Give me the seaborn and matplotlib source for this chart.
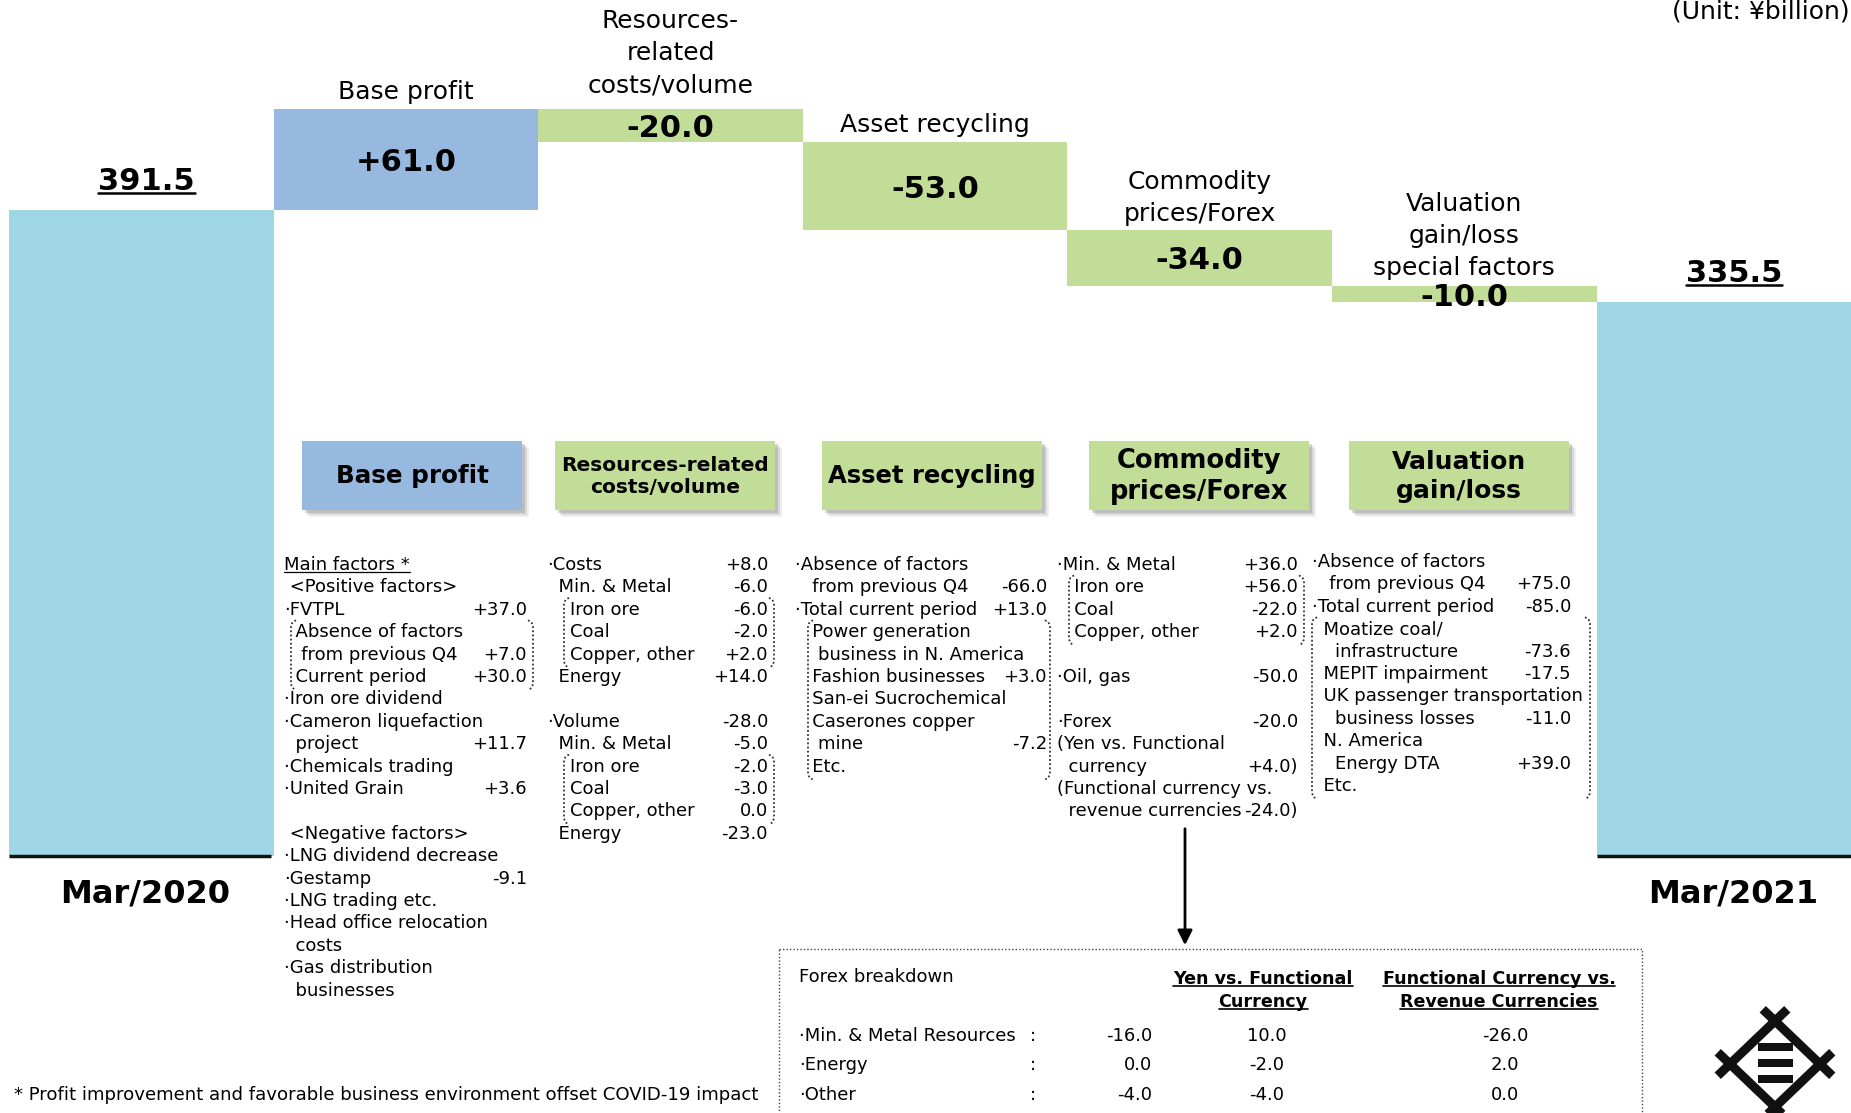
import numpy as np
import pandas as pd
import seaborn as sns
import matplotlib.pyplot as plt
from matplotlib.patches import Rectangle
from matplotlib.lines import Line2D
from matplotlib.transforms import IdentityTransform

# ---------------- data ----------------
steps = ["Mar/2020", "Base profit", "Resources-\nrelated\ncosts/volume", "Asset recycling",
         "Commodity\nprices/Forex", "Valuation\ngain/loss\nspecial factors", "Mar/2021"]
amounts = [391.5, 61.0, -20.0, -53.0, -34.0, -10.0, 335.5]
is_total = [True, False, False, False, False, False, True]
value_labels = ["391.5", "+61.0", "-20.0", "-53.0", "-34.0", "-10.0", "335.5"]

box_titles = ["Base profit", "Resources-related\ncosts/volume", "Asset recycling",
              "Commodity\nprices/Forex", "Valuation\ngain/loss"]

base_profit_lines = [
    ("Main factors *", ""), (" <Positive factors>", ""), ("·FVTPL", "+37.0"),
    ("  Absence of factors", ""), ("   from previous Q4", "+7.0"), ("  Current period", "+30.0"),
    ("·Iron ore dividend", ""), ("·Cameron liquefaction", ""), ("  project", "+11.7"),
    ("·Chemicals trading", ""), ("·United Grain", "+3.6"), ("", ""),
    (" <Negative factors>", ""), ("·LNG dividend decrease", ""), ("·Gestamp", "-9.1"),
    ("·LNG trading etc.", ""), ("·Head office relocation", ""), ("  costs", ""),
    ("·Gas distribution", ""), ("  businesses", ""),
]
resources_lines = [
    ("·Costs", "+8.0"), ("  Min. & Metal", "-6.0"), ("    Iron ore", "-6.0"), ("    Coal", "-2.0"),
    ("    Copper, other", "+2.0"), ("  Energy", "+14.0"), ("", ""),
    ("·Volume", "-28.0"), ("  Min. & Metal", "-5.0"), ("    Iron ore", "-2.0"), ("    Coal", "-3.0"),
    ("    Copper, other", "0.0"), ("  Energy", "-23.0"),
]
asset_lines = [
    ("·Absence of factors", ""), ("   from previous Q4", "-66.0"), ("·Total current period", "+13.0"),
    ("   Power generation", ""), ("    business in N. America", ""), ("   Fashion businesses", "+3.0"),
    ("   San-ei Sucrochemical", ""), ("   Caserones copper", ""), ("    mine", "-7.2"), ("   Etc.", ""),
]
commodity_lines = [
    ("·Min. & Metal", "+36.0"), ("   Iron ore", "+56.0"), ("   Coal", "-22.0"), ("   Copper, other", "+2.0"),
    ("", ""), ("·Oil, gas", "-50.0"), ("", ""), ("·Forex", "-20.0"),
    ("(Yen vs. Functional", ""), ("  currency", "+4.0)"),
    ("(Functional currency vs.", ""), ("  revenue currencies", "-24.0)"),
]
valuation_lines = [
    ("·Absence of factors", ""), ("   from previous Q4", "+75.0"), ("·Total current period", "-85.0"),
    ("  Moatize coal/", ""), ("    infrastructure", "-73.6"), ("  MEPIT impairment", "-17.5"),
    ("  UK passenger transportation", ""), ("    business losses", "-11.0"),
    ("  N. America", ""), ("    Energy DTA", "+39.0"), ("  Etc.", ""),
]

forex_segments = ["·Min. & Metal Resources", "·Energy", "·Other"]
forex_total = [-16.0, 0.0, -4.0]
forex_yen_vs_func = [10.0, -2.0, -4.0]
forex_func_vs_rev = [-26.0, 2.0, 0.0]

footnote = "* Profit improvement and favorable business environment offset COVID-19 impact"

# ---------------- waterfall geometry ----------------
bottoms, heights = [], []
level = 0.0
for a, tot in zip(amounts, is_total):
    if tot:
        bottoms.append(0.0)
        heights.append(a)
        level = a
    else:
        bottoms.append(min(level, level + a))
        heights.append(abs(a))
        level += a
df = pd.DataFrame({"step": steps, "bottom": bottoms, "height": heights})

total_color = "#9FD6E5"
plus_color = "#97B9E0"
minus_color = "#C2DD98"
bar_colors = [total_color if t else (plus_color if a > 0 else minus_color)
              for a, t in zip(amounts, is_total)]

W, H = 1851, 1113
PX_BAR = 264.6      # pixel width of one bar
X0 = 9              # left edge of first bar
PX_UNIT = 1.65      # pixels per ¥billion
BASE = 856          # baseline pixel row

sns.set_theme(style="white")
plt.rcParams['font.family'] = ['DejaVu Sans']
plt.rcParams['text.color'] = 'black'

fig = plt.figure(figsize=(W / 100, H / 100), dpi=100)
ax = fig.add_axes([0, 0, 1, 1])
sns.barplot(data=df, x="step", y="height", order=steps, bottom=df["bottom"].to_numpy(),
            width=1.0, color=total_color, saturation=1, errorbar=None, ax=ax)
for patch, c in zip(ax.patches, bar_colors):
    patch.set_facecolor(c)
    patch.set_edgecolor("none")
    patch.set_linewidth(0)
ax.set_xlim(-0.5 - X0 / PX_BAR, -0.5 + (W - X0) / PX_BAR)
ax.set_ylim(-(H - BASE) / PX_UNIT, BASE / PX_UNIT)
ax.axis("off")

# black base line under the two total bars
for i, tot in enumerate(is_total):
    if tot:
        ax.hlines(0, i - 0.5, i + 0.49, color="#111111", lw=2.5, zorder=3)

# gap (pixels) between the top of a step bar and its caption
caption_gap = [0, 5, 12, 5, 4, 6, 0]
totals_text = []
for i, (lab, b, h, tot) in enumerate(zip(steps, bottoms, heights, is_total)):
    if tot:
        t = ax.annotate(value_labels[i], xy=(i, h), xytext=(5, 29), textcoords="offset pixels",
                        ha="center", va="center", fontsize=22, fontweight="bold")
        totals_text.append(t)
        ax.annotate(lab, xy=(i, 0), xytext=(4, -38), textcoords="offset pixels",
                    ha="center", va="center", fontsize=23, fontweight="bold")
    else:
        ax.annotate(value_labels[i], xy=(i, b + h / 2), xytext=(0, -3), textcoords="offset pixels",
                    ha="center", va="center", fontsize=22, fontweight="bold")
        ax.annotate(lab, xy=(i, b + h), xytext=(0, caption_gap[i]), textcoords="offset pixels",
                    ha="center", va="bottom", fontsize=18, linespacing=1.42)

# ---------------- overlay in pixel coordinates ----------------
tx = fig.add_axes([0, 0, 1, 1])
tx.set_xlim(0, W)
tx.set_ylim(H, 0)
tx.axis("off")
tx.patch.set_alpha(0)

tx.text(W - 1, 12, "(Unit: ¥billion)", ha="right", va="center", fontsize=18)

# header boxes with soft shadow
box_centers = [412, 665, 932, 1199, 1459]
box_sizes = [17.7, 14.5, 17.5, 18.5, 18]
for j, title in enumerate(box_titles):
    cx = box_centers[j]
    bx, by, bw, bh = cx - 110, 441, 220, 69
    for off, alpha in [(7, 0.12), (5, 0.2), (3, 0.3)]:
        tx.add_patch(Rectangle((bx + off, by + off), bw, bh, facecolor="#808080",
                               edgecolor="none", alpha=alpha, zorder=1))
    tx.add_patch(Rectangle((bx, by), bw, bh, facecolor=plus_color if j == 0 else minus_color,
                           edgecolor="none", zorder=2))
    tx.text(cx, by + bh / 2 + 1, title, ha="center", va="center", fontsize=box_sizes[j],
            fontweight="bold", linespacing=1.25, zorder=3)

# factor columns
LINE = 22.4
FS = 13
columns = [
    (base_profit_lines, 284, 527, 565),
    (resources_lines, 547, 768, 565),
    (asset_lines, 795, 1047, 565),
    (commodity_lines, 1057, 1298, 565),
    (valuation_lines, 1312, 1571, 562),
]
col_texts = []
for lines, xl, xr, y0 in columns:
    objs = []
    for k, (lab, val) in enumerate(lines):
        y = y0 + k * LINE
        objs.append(tx.text(xl, y, lab, ha="left", va="center", fontsize=FS))
        if val:
            tx.text(xr, y, val, ha="right", va="center", fontsize=FS)
    col_texts.append(objs)


def bracket(col, first, last, xl, xr, left=True, right=True):
    y0 = columns[col][3]
    top = y0 + first * LINE - 12
    bot = y0 + last * LINE + 13
    kw = dict(color="#333333", lw=1.3, ls=(0, (1, 1.3)), zorder=3)
    if left:
        tx.plot([xl + 5, xl + 1.5, xl, xl, xl + 1.5, xl + 5],
                [top, top + 2, top + 6, bot - 6, bot - 2, bot], **kw)
    if right:
        tx.plot([xr - 5, xr - 1.5, xr, xr, xr - 1.5, xr - 5],
                [top, top + 2, top + 6, bot - 6, bot - 2, bot], **kw)


bracket(0, 3, 5, 291, 533)
bracket(1, 2, 4, 564, 774)
bracket(1, 9, 11, 564, 774)
bracket(2, 3, 9, 808, 1050)
bracket(3, 1, 3, 1069, 1304)
bracket(4, 3, 10, 1312, 1590)

# arrow to forex breakdown
tx.annotate("", xy=(1185, 948), xytext=(1185, 826),
            arrowprops=dict(arrowstyle="-|>", color="black", lw=2, mutation_scale=22))

# forex breakdown box
tx.add_patch(Rectangle((779, 949), 863, 200, fill=False, edgecolor="#444444",
                       lw=1.0, ls=(0, (1, 1.5)), zorder=2))
tx.text(799, 977, "Forex breakdown", ha="left", va="center", fontsize=13)
hdr = []
for cx, l1, l2 in [(1263, "Yen vs. Functional", "Currency"),
                   (1499, "Functional Currency vs.", "Revenue Currencies")]:
    hdr.append(tx.text(cx, 979, l1, ha="center", va="center", fontsize=12.6, fontweight="bold"))
    hdr.append(tx.text(cx, 1002, l2, ha="center", va="center", fontsize=12.6, fontweight="bold"))
for k, seg in enumerate(forex_segments):
    y = 1036 + k * 29.5
    tx.text(799, y, seg, ha="left", va="center", fontsize=13)
    tx.text(1033, y, ":", ha="center", va="center", fontsize=13)
    tx.text(1152, y, f"{forex_total[k]:.1f}", ha="right", va="center", fontsize=13)
    tx.text(1267, y, f"{forex_yen_vs_func[k]:.1f}", ha="center", va="center", fontsize=13)
    tx.text(1505, y, f"{forex_func_vs_rev[k]:.1f}", ha="center", va="center", fontsize=13)

tx.text(14, 1095, footnote, ha="left", va="center", fontsize=13.1)

# logo
c = np.array([1775.0, 1064.0])
verts = [c + [-45, 0], c + [0, -43], c + [45, 0], c + [0, 43]]
for p, q in zip(verts, verts[1:] + verts[:1]):
    d = (q - p) / np.linalg.norm(q - p)
    a, b = p - d * 17, q + d * 17
    tx.plot([a[0], b[0]], [a[1], b[1]], color="#111111", lw=6.5, solid_capstyle="butt", zorder=4)
for yy in [1047, 1063, 1079]:
    tx.add_patch(Rectangle((1758, yy - 4), 35, 8, facecolor="#111111", edgecolor="none", zorder=4))

# underlines
fig.canvas.draw()
renderer = fig.canvas.get_renderer()


def underline(t, drop, lw):
    bb = t.get_window_extent(renderer)
    y = bb.y0 + drop
    fig.add_artist(Line2D([bb.x0, bb.x1], [y, y], transform=IdentityTransform(),
                          color="black", lw=lw))


for t in totals_text:
    underline(t, 3, 1.8)
underline(col_texts[0][0], 2, 0.9)
for t in hdr:
    underline(t, 2, 1.2)

fig.savefig("out.png", dpi=100)
